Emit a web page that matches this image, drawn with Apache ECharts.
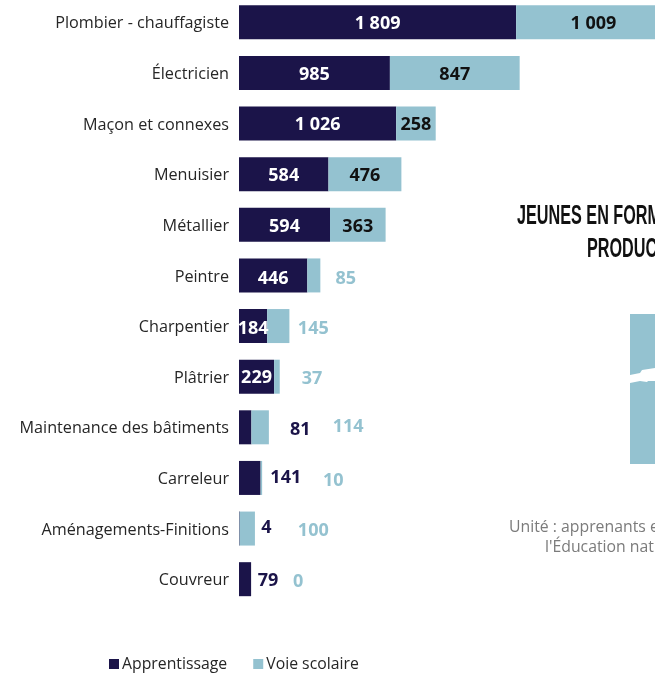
<!DOCTYPE html>
<html><head><meta charset="utf-8">
<style>html,body{margin:0;padding:0;background:#fff;overflow:hidden}#c{width:655px;height:673px}</style>
<script src="https://cdn.jsdelivr.net/npm/echarts@6/dist/echarts.min.js"></script>
</head><body><div id="c"></div>
<script>
const categories = ['Plombier - chauffagiste','Électricien','Maçon et connexes','Menuisier','Métallier','Peintre','Charpentier','Plâtrier','Maintenance des bâtiments','Carreleur','Aménagements-Finitions','Couvreur'];
const apprentissage = [1809,985,1026,584,594,446,184,229,81,141,4,79];
const voieScolaire = [1009,847,258,476,363,85,145,37,114,10,100,0];
const apprentissageLabelDx = [0,0,0,0,0,0,0,0,55,36,27,23];
const apprentissageLabelDy = [2,1.5,1.5,2,2,3,3,1.5,3,0,-0.5,2];
const voieLabelDx = [null,null,null,null,null,32,35,35,88,72,66,47];
const voieLabelDy = [2,1.5,1.5,2,2,3,3,2.5,0,3,2.5,3];

const fmt = v => String(v).replace(/\B(?=(\d{3})+$)/g,' ');
const DARK='#1b1449', LIGHT='#94c2d0';
const chart = echarts.init(document.getElementById('c'),null,{renderer:'canvas'});
const lab = {fontFamily:'Open Sans',fontWeight:'bold',fontSize:18};
chart.setOption({
  animation:false,
  grid:{left:239,top:-3,width:459.6,height:607.5,containLabel:false,outerBoundsMode:'none'},
  xAxis:{type:'value',min:0,max:3000,show:false},
  yAxis:{type:'category',inverse:true,data:categories,axisLine:{show:false},axisTick:{show:false},
    axisLabel:{margin:10,formatter:v=>'{a|'+v+'}',
      rich:{a:{color:'#262626',fontFamily:'Open Sans',fontSize:16.2,padding:[3,0,0,0]}}}},
  legend:{left:104,top:651,itemWidth:10,itemHeight:10,itemGap:26,icon:'rect',
    textStyle:{color:'#262626',fontFamily:'Open Sans',fontSize:15.8,padding:[0,0,0,-2]},
    data:['Apprentissage','Voie scolaire']},
  series:[
    {name:'Apprentissage',type:'bar',stack:'t',barWidth:34,itemStyle:{color:DARK},
     data:apprentissage.map((v,i)=>({value:v,label:{show:true,position:'inside',
       offset:[apprentissageLabelDx[i],apprentissageLabelDy[i]],...lab,
       color:apprentissageLabelDx[i]?DARK:'#fff',formatter:()=>fmt(v)}}))},
    {name:'Voie scolaire',type:'bar',stack:'t',barWidth:34,itemStyle:{color:LIGHT},
     data:voieScolaire.map((v,i)=>{const o=voieLabelDx[i];return {value:v,label:{show:true,
       position:'inside',offset:[o===null?0:o,voieLabelDy[i]],...lab,
       color:o===null?'#111':LIGHT,formatter:()=>fmt(v)}}})}
  ],
  graphic:[
    {type:'text',x:517,y:203.5,scaleX:0.6,z:5,style:{text:'JEUNES EN FORMATION',fontFamily:'Liberation Sans',fontWeight:'bold',fontSize:27,fill:'#111'}},
    {type:'text',x:587,y:236.5,scaleX:0.6,z:5,style:{text:'PRODUCTION',fontFamily:'Liberation Sans',fontWeight:'bold',fontSize:27,fill:'#111'}},
    {type:'rect',shape:{x:630,y:314,width:30,height:150},style:{fill:LIGHT}},
    {type:'polygon',shape:{points:[[630,375],[640,373],[642,370],[655,368],[655,381],[648,381],[647,382],[640,381],[630,383]]},style:{fill:'#fff'}},
    {type:'text',left:509,top:519,style:{text:'Unité : apprenants en',fontFamily:'Open Sans',fontSize:15.8,fill:'#7b7b7b'}},
    {type:'text',left:545,top:539,style:{text:"l'Éducation nationale",fontFamily:'Open Sans',fontSize:15.8,fill:'#7b7b7b'}}
  ]
});
</script></body></html>
